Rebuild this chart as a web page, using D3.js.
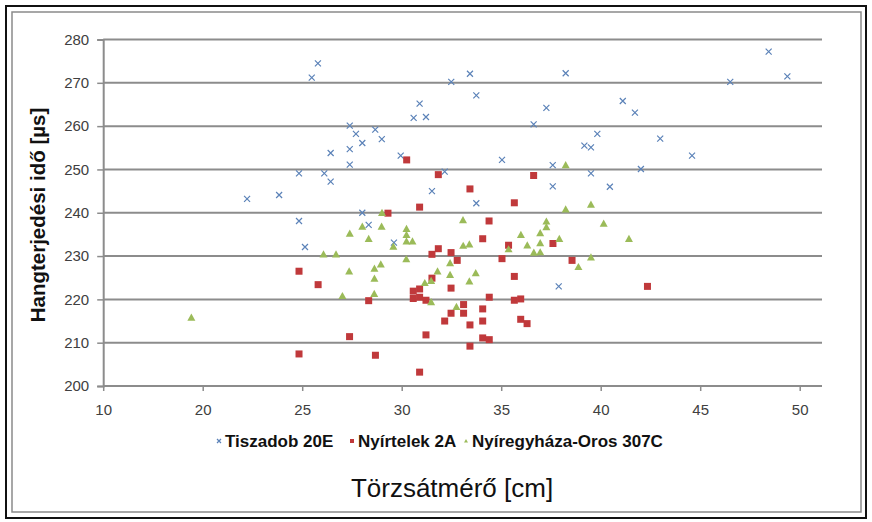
<!DOCTYPE html>
<html>
<head>
<meta charset="utf-8">
<script src="https://cdn.jsdelivr.net/npm/d3@7"></script>
<style>
	body { margin: 0; background: #fff; }
	svg { display: block; }
	.tick-label { font-family: "Liberation Sans Narrow", "Liberation Sans", sans-serif; font-size: 15px; fill: #404040; }
</style>
</head>
<body>
<svg id="chart" width="872" height="522" viewBox="0 0 872 522"></svg>
<script>
// axis setup
const yTicks = [200, 210, 220, 230, 240, 250, 260, 270, 280];
const xTickValues = [15, 20, 25, 30, 35, 40, 45, 50];
const xTickLabels = ["10", "20", "25", "30", "35", "40", "45", "50"];

const seriesNames = ["Tiszadob 20E", "Nyírtelek 2A", "Nyíregyháza-Oros 307C"];

// Tiszadob 20E  [diameter, time]
const tiszadob = [
	[22.23, 243.2], [23.84, 244.1], [24.84, 249.1], [26.11, 249.1], [26.43, 247.2],
	[26.43, 253.8], [25.48, 271.2], [25.79, 274.5], [28.02, 240.0], [24.84, 238.1],
	[28.34, 237.2], [29.61, 233.1], [25.14, 232.1], [27.39, 260.1], [27.70, 258.2],
	[28.02, 256.1], [27.39, 254.7], [27.39, 251.1], [28.67, 259.2], [29.00, 257.0],
	[29.95, 253.2], [32.16, 249.5], [31.52, 245.0], [30.60, 261.9], [31.22, 262.1],
	[30.90, 265.2], [32.49, 270.2], [33.43, 272.1], [33.75, 267.1], [35.04, 252.2],
	[33.75, 242.2], [36.63, 260.4], [37.27, 264.2], [38.24, 272.2], [37.59, 251.0],
	[37.59, 246.1], [48.44, 277.2], [49.38, 271.5], [46.51, 270.2], [41.11, 265.8],
	[41.72, 263.1], [39.83, 258.2], [39.18, 255.5], [39.51, 255.1], [42.99, 257.1],
	[44.59, 253.2], [39.51, 249.1], [42.02, 250.1], [40.46, 246.0], [37.89, 223.0]
];

// Nyírtelek 2A
const nyirtelek = [
	[24.84, 226.5], [25.80, 223.4], [24.84, 207.4], [29.31, 239.9], [30.25, 252.2],
	[31.84, 248.8], [33.43, 245.5], [36.63, 248.6], [35.66, 242.3], [30.90, 241.3],
	[34.39, 238.1], [34.07, 234.0], [35.37, 232.5], [37.60, 232.9], [31.84, 231.7],
	[32.48, 230.8], [31.52, 230.4], [32.79, 229.0], [35.04, 229.4], [38.56, 229.0],
	[31.52, 224.9], [35.66, 225.3], [32.48, 222.6], [30.58, 221.9], [30.90, 222.4],
	[30.58, 220.2], [30.90, 220.5], [31.22, 219.8], [28.34, 219.7], [34.40, 220.5],
	[35.66, 219.8], [35.98, 220.1], [33.11, 218.8], [34.07, 217.8], [32.48, 216.8],
	[33.11, 216.8], [32.16, 215.0], [34.07, 215.0], [35.98, 215.4], [36.30, 214.4],
	[33.43, 214.1], [27.38, 211.4], [31.22, 211.8], [34.07, 211.1], [34.40, 210.7],
	[33.43, 209.2], [28.68, 207.1], [30.90, 203.2], [42.35, 223.0]
];

// Nyíregyháza-Oros 307C
const oros = [
	[19.43, 215.8], [29.01, 240.0], [28.02, 236.8], [28.99, 236.8], [27.39, 235.2],
	[28.34, 234.0], [26.07, 230.4], [26.70, 230.4], [27.36, 226.5], [28.63, 227.1],
	[28.95, 228.1], [28.63, 224.8], [28.62, 221.3], [27.02, 220.8], [30.24, 236.3],
	[30.24, 234.9], [30.24, 233.4], [30.54, 233.4], [29.58, 232.2], [30.23, 229.3],
	[33.08, 238.3], [33.09, 232.4], [33.40, 232.7], [32.43, 228.4], [31.80, 226.5],
	[32.43, 225.7], [33.72, 226.1], [33.40, 224.2], [31.16, 223.8], [31.48, 224.3],
	[31.48, 219.4], [32.75, 218.3], [35.37, 231.6], [35.99, 234.9], [36.31, 232.5],
	[36.64, 230.8], [36.96, 230.9], [36.96, 233.0], [36.96, 235.3], [37.27, 238.0],
	[37.27, 236.7], [37.92, 234.0], [38.24, 240.8], [38.88, 227.5], [39.51, 241.9],
	[40.15, 237.5], [41.42, 234.0], [39.51, 229.7], [38.24, 251.0]
];

const colors = ["#5b82b8", "#c0393b", "#9bbb59"];

function drawMarker(sel, kind, color, size) {
	if (kind === 0) {
		const h = size / 2;
		sel.append("path")
			.attr("d", `M${-h},${-h}L${h},${h}M${-h},${h}L${h},${-h}`)
			.style("stroke", color).style("stroke-width", 1.2).style("fill", "none");
	} else if (kind === 1) {
		sel.append("rect")
			.attr("x", -size / 2).attr("y", -size / 2)
			.attr("width", size).attr("height", size)
			.style("fill", color);
	} else {
		const h = size / 2;
		sel.append("path")
			.attr("d", `M0,${-h}L${h},${h * 0.8}L${-h},${h * 0.8}Z`)
			.style("fill", color);
	}
}

function whenDocumentLoaded(action) {
	if (document.readyState === "loading") {
		document.addEventListener("DOMContentLoaded", action);
	} else {
		action();
	}
}

whenDocumentLoaded(() => {
	const svg = d3.select("#chart");
	const plotLeft = 103.2, plotRight = 822, plotTop = 39.5, plotBottom = 386;

	const x = d3.scaleLinear().domain([15, 50]).range([plotLeft, 799.7]);
	const y = d3.scaleLinear().domain([200, 280]).range([plotBottom, plotTop]);

	// frame
	svg.append("rect").attr("x", 6).attr("y", 6).attr("width", 860).attr("height", 512)
		.style("fill", "none").style("stroke", "#111").style("stroke-width", 2);
	svg.append("rect").attr("x", 12).attr("y", 12).attr("width", 849).attr("height", 500)
		.style("fill", "none").style("stroke", "#8a8a8a").style("stroke-width", 1.5);

	// horizontal grid
	svg.append("g").selectAll("line")
		.data(yTicks.slice(1))
		.enter().append("line")
		.attr("x1", plotLeft).attr("x2", plotRight)
		.attr("y1", d => y(d)).attr("y2", d => y(d))
		.style("stroke", "#8c8c8c").style("stroke-width", 2);

	// y axis
	const yAxis = d3.axisLeft(y).tickValues(yTicks).tickSize(6).tickPadding(4).tickFormat(d3.format("d"));
	const yg = svg.append("g").attr("transform", `translate(${plotLeft},0)`).call(yAxis);
	yg.select(".domain").style("stroke", "#8c8c8c").style("stroke-width", 2);
	yg.selectAll(".tick line").style("stroke", "#8c8c8c").style("stroke-width", 1.5);
	yg.selectAll(".tick text").attr("class", "tick-label").attr("x", -14);

	// x axis
	const xAxis = d3.axisBottom(x).tickValues(xTickValues).tickSize(5).tickPadding(10)
		.tickFormat((d, i) => xTickLabels[i]);
	const xg = svg.append("g").attr("transform", `translate(0,${plotBottom})`).call(xAxis);
	xg.select(".domain").attr("d", `M${plotLeft},0H${plotRight}`)
		.style("stroke", "#8c8c8c").style("stroke-width", 2);
	xg.selectAll(".tick line").style("stroke", "#8c8c8c").style("stroke-width", 1.5);
	xg.selectAll(".tick text").attr("class", "tick-label").attr("dy", "0.9em");

	// points
	const allSeries = [tiszadob, nyirtelek, oros];
	const sizes = [6, 7, 8];
	allSeries.forEach((data, k) => {
		svg.append("g").selectAll("g")
			.data(data)
			.enter().append("g")
			.attr("transform", d => `translate(${x(d[0])},${y(d[1])})`)
			.each(function () { drawMarker(d3.select(this), k, colors[k], sizes[k]); });
	});

	// legend
	const legendX = [219, 352, 466];
	const lg = svg.append("g");
	seriesNames.forEach((name, k) => {
		const item = lg.append("g").attr("transform", `translate(${legendX[k]},441)`);
		drawMarker(item, k, colors[k], 4);
		item.append("text")
			.attr("x", 6).attr("y", 6)
			.style("font-family", "'Liberation Sans Narrow', sans-serif")
			.style("font-weight", "bold").style("font-size", "17px").style("fill", "#111")
			.text(name);
	});

	// axis titles
	svg.append("text")
		.attr("transform", "translate(45,215) rotate(-90)")
		.attr("text-anchor", "middle")
		.style("font-family", "'Liberation Sans Narrow', sans-serif")
		.style("font-weight", "bold").style("font-size", "20.5px").style("fill", "#111")
		.text("Hangterjedési idő [µs]");

	svg.append("text")
		.attr("x", 452).attr("y", 497)
		.attr("text-anchor", "middle")
		.style("font-family", "'Liberation Sans Narrow', sans-serif")
		.style("font-size", "26px").style("fill", "#111")
		.text("Törzsátmérő [cm]");
});
</script>
</body>
</html>
